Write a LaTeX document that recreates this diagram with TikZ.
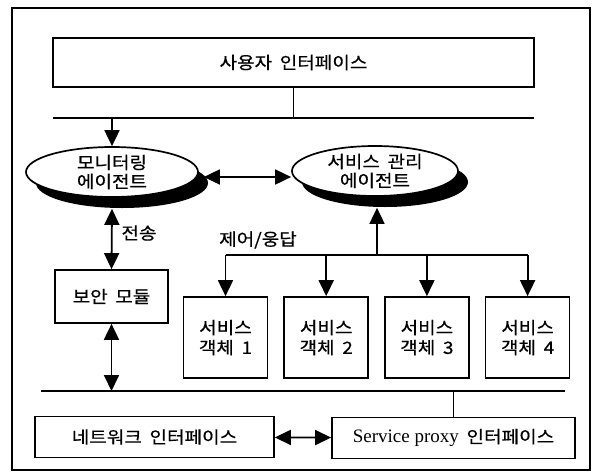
\documentclass[tikz,border=0pt]{standalone}
\usepackage{fontspec}
\setmainfont{Liberation Serif}
\newfontfamily\kr[FakeStretch=1.12, FakeBold=0.6, WordSpace=1.8]{Noto Sans CJK KR}
\usepackage{tikz}
\usetikzlibrary{positioning,shapes.geometric,shadows,arrows.meta}
\tikzstyle{block} = [draw, rectangle, line width=1.7pt, inner sep=0pt, align=center, font=\kr\fontsize{17}{20}\selectfont]
\tikzstyle{agent} = [draw, ellipse, fill=white, line width=1.7pt, minimum width=172pt, minimum height=50pt, inner xsep=0pt, inner ysep=-8pt, align=center, font=\kr\fontsize{17}{19}\selectfont, drop shadow={shadow xshift=10pt, shadow yshift=-11pt, fill=black, opacity=1}]
\tikzstyle{txt} = [inner sep=0pt, font=\kr\fontsize{17}{20}\selectfont]
\tikzstyle{bus} = [line width=1.8pt]
\tikzstyle{link} = [line width=1.8pt, -{Triangle[length=16pt,width=15pt]}]
\tikzstyle{dlink} = [line width=1.8pt, {Triangle[length=16pt,width=15pt]}-{Triangle[length=16pt,width=15pt]}]

\begin{document}
\begin{tikzpicture}[x=1pt,y=-1pt]
	\useasboundingbox (0,0) rectangle (599,474);
	\draw [line width=1.8pt] (12,8) rectangle (590,470);

	\node [block, minimum width=481pt, minimum height=49pt] (ui) at (293.5,62.5) {사용자 인터페이스};
	\node [agent] (mon) at (112,172) {모니터링\\에이전트};
	\node [agent, minimum width=166pt] (svc) at (375,171) {서비스 관리\\에이전트};
	\node [block, minimum width=113pt, minimum height=53pt] (sec) at (111.5,296.5) {보안 모듈};
	\node [block, minimum width=84pt, minimum height=81pt] (obj1) at (225.5,337.5) {서비스\\객체 1};
	\node [block, minimum width=84pt, minimum height=81pt, right=15pt of obj1] (obj2) {서비스\\객체 2};
	\node [block, minimum width=84pt, minimum height=81pt, right=15pt of obj2] (obj3) {서비스\\객체 3};
	\node [block, minimum width=84pt, minimum height=81pt, right=15pt of obj3] (obj4) {서비스\\객체 4};
	\node [block, minimum width=239pt, minimum height=41pt] (net) at (154.5,437) {네트워크 인터페이스};
	\node [block, minimum width=243pt, minimum height=41pt] (proxy) at (453.5,438) {{\rmfamily\fontsize{19}{20}\selectfont Service proxy} 인터페이스};
	\node [txt] (send) at (139,233) {전송};
	\node [txt] (ctrl) at (258,240) {제어/웅답};

	\coordinate (b1w) at (53,118);
	\coordinate (b1e) at (534,118);
	\coordinate (b2w) at (41,391);
	\coordinate (b2e) at (565,391);
	\coordinate (fork) at (377,255);

	\draw [bus] (b1w) -- (b1e);
	\draw [bus] (ui.south) -- (ui.south |- b1w);
	\draw [link] (mon.north |- b1w) -- (mon.north);
	\draw [dlink] ([xshift=5pt,yshift=-5pt]mon.east) -- ([yshift=-6pt]svc.west);
	\draw [dlink] ([yshift=-11pt]mon.south) -- (sec.north);
	\draw [link] (fork) -- ([yshift=-11pt]svc.south -| fork);
	\draw [bus] (obj1.north |- fork) -- (obj4.north |- fork);
	\foreach \i in {1,...,4}
		\draw [link] (obj\i.north |- fork) -- (obj\i.north);
	\draw [bus] (b2w) -- (b2e);
	\draw [dlink] (sec.south) -- (sec.south |- b2w);
	\draw [bus] (proxy.north |- b2w) -- (proxy.north);
	\draw [dlink] (net) -- (proxy);
\end{tikzpicture}
\end{document}
